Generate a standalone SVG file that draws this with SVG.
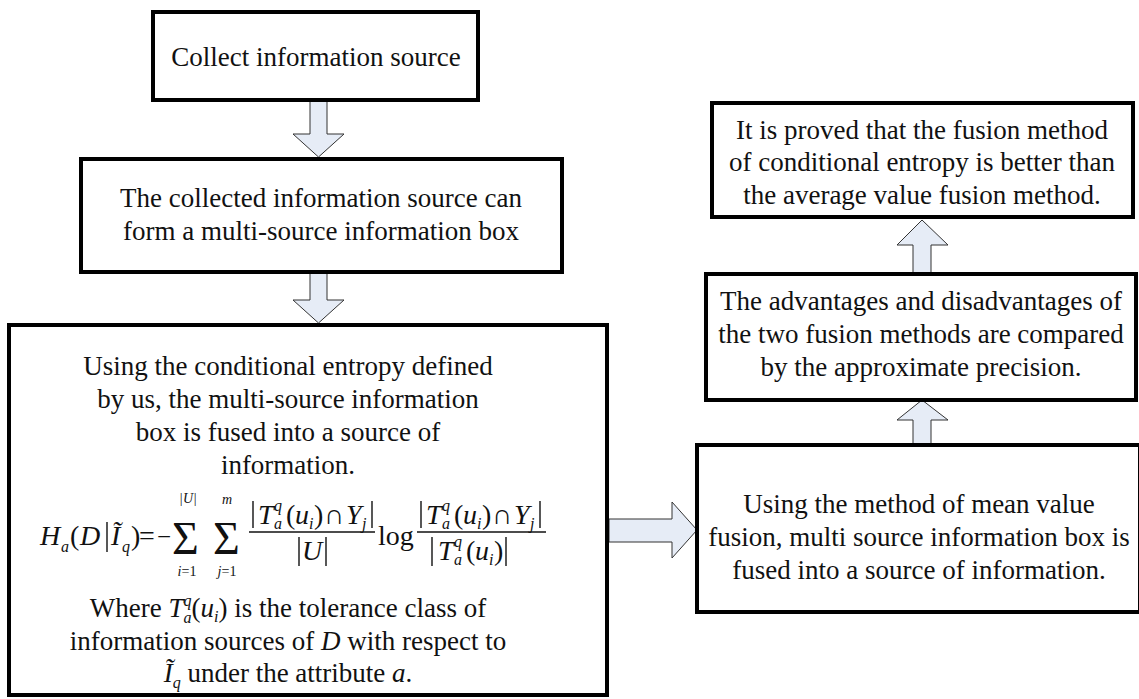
<svg xmlns="http://www.w3.org/2000/svg" width="1139" height="699" viewBox="0 0 1139 699">
<style>
.box{fill:#fff;stroke:#000;stroke-width:4}
.t{font-family:"Liberation Serif","Times New Roman",serif;font-size:27px;fill:#111;text-anchor:middle}
.m{font-family:"Liberation Serif","Times New Roman",serif;fill:#111}
.i{font-style:italic}
.arr{fill:#e6ecf6;stroke:#333;stroke-width:1}
.ln{stroke:#111;stroke-width:1.4;fill:none}
</style>
<rect width="1139" height="699" fill="#fff"/>
<g id="connectors">
<polygon class="arr" points="310,101 327,101 327,134 344,134 318.5,157 293,134 310,134"/>
<polygon class="arr" points="310,273 327,273 327,300 344,300 318.5,323 293,300 310,300"/>
<polygon class="arr" points="609,519 672,519 672,502 697,530 672,558 672,542 609,542"/>
<polygon class="arr" points="913,444 931,444 931,420 948,420 922,400 897,420 913,420"/>
<polygon class="arr" points="913,273 931,273 931,245 948,245 922,220 897,245 913,245"/>
</g>
<g id="n1">
<rect class="box" x="153" y="12" width="325" height="88"/>
<text class="t" x="316" y="66">Collect information source</text>
</g>
<g id="n2">
<rect class="box" x="81" y="159" width="481" height="113"/>
<text class="t" x="321" y="207">The collected information source can</text>
<text class="t" x="321" y="240">form a multi-source information box</text>
</g>
<g id="n3">
<rect class="box" x="9" y="325" width="598" height="370"/>
<text class="t" x="288" y="375">Using the conditional entropy defined</text>
<text class="t" x="288" y="408">by us, the multi-source information</text>
<text class="t" x="288" y="441">box is fused into a source of</text>
<text class="t" x="288" y="474">information.</text>
<g id="formula" class="m">
<text x="40" y="545" font-size="28" class="i">H</text>
<text x="61" y="552" font-size="16" class="i">a</text>
<text x="70" y="545" font-size="28">(</text>
<text x="80" y="545" font-size="28" class="i">D</text>
<line class="ln" x1="107" y1="522" x2="107" y2="552"/>
<text x="111" y="545" font-size="28" class="i">Ĩ</text>
<text x="122" y="552" font-size="16" class="i">q</text>
<text x="131" y="545" font-size="28">)</text>
<text x="139" y="545" font-size="28">=</text>
<text x="157" y="545" font-size="25">−</text>
<text x="172" y="554" font-size="46">Σ</text>
<text x="188" y="503" font-size="14" text-anchor="middle" class="i">|U|</text>
<text x="187" y="576" font-size="14" text-anchor="middle"><tspan class="i">i</tspan>=1</text>
<text x="213" y="554" font-size="46">Σ</text>
<text x="227" y="504" font-size="14" text-anchor="middle" class="i">m</text>
<text x="227" y="576" font-size="14" text-anchor="middle"><tspan class="i">j</tspan>=1</text>
<g id="num1">
<line class="ln" x1="253" y1="501" x2="253" y2="528"/>
<text x="258" y="524" font-size="28" class="i">T</text>
<text x="274" y="511" font-size="16" class="i">q</text>
<text x="274" y="529" font-size="16" class="i">a</text>
<text x="286" y="524" font-size="28">(</text>
<text x="295" y="524" font-size="28" class="i">u</text>
<text x="309" y="529" font-size="16" class="i">i</text>
<text x="314" y="524" font-size="28">)</text>
<text x="324" y="524" font-size="28">∩</text>
<text x="346" y="524" font-size="28" class="i">Y</text>
<text x="362" y="529" font-size="16" class="i">j</text>
<line class="ln" x1="372" y1="501" x2="372" y2="528"/>
</g>
<line class="ln" x1="249" y1="532" x2="375" y2="532"/>
<line class="ln" x1="299" y1="537" x2="299" y2="566"/>
<text x="312" y="560" font-size="28" class="i" text-anchor="middle">U</text>
<line class="ln" x1="326" y1="537" x2="326" y2="566"/>
<text x="378" y="545" font-size="28">log</text>
<use href="#num1" x="168"/>
<line class="ln" x1="417" y1="532" x2="546" y2="532"/>
<line class="ln" x1="432" y1="537" x2="432" y2="566"/>
<text x="438" y="560" font-size="28" class="i">T</text>
<text x="454" y="547" font-size="16" class="i">q</text>
<text x="454" y="565" font-size="16" class="i">a</text>
<text x="466" y="560" font-size="28">(</text>
<text x="475" y="560" font-size="28" class="i">u</text>
<text x="489" y="565" font-size="16" class="i">i</text>
<text x="494" y="560" font-size="28">)</text>
<line class="ln" x1="506" y1="537" x2="506" y2="566"/>
</g>
<text class="m" x="288" y="617" font-size="27" text-anchor="middle">Where <tspan class="i">T</tspan><tspan font-size="16" dy="-11" class="i">q</tspan><tspan font-size="16" dx="-8" dy="17" class="i">a</tspan><tspan dy="-6">(</tspan><tspan class="i">u</tspan><tspan font-size="16" dy="5" class="i">i</tspan><tspan dy="-5">)</tspan> is the tolerance class of</text>
<text class="m" x="288" y="650" font-size="27" text-anchor="middle">information sources of <tspan class="i">D</tspan> with respect to</text>
<text class="m" x="288" y="682" font-size="27" text-anchor="middle"><tspan class="i">Ĩ</tspan><tspan font-size="16" dy="6" class="i">q</tspan><tspan dy="-6"> under the attribute </tspan><tspan class="i">a</tspan>.</text>
</g>
<g id="n4">
<rect class="box" x="697" y="445" width="443" height="167"/>
<text class="t" x="919" y="513">Using the method of mean value</text>
<text class="t" x="919" y="546">fusion, multi source information box is</text>
<text class="t" x="919" y="579">fused into a source of information.</text>
</g>
<g id="n5">
<rect class="box" x="706" y="274" width="430" height="126"/>
<text class="t" x="921" y="310">The advantages and disadvantages of</text>
<text class="t" x="921" y="343">the two fusion methods are compared</text>
<text class="t" x="921" y="376">by the approximate precision.</text>
</g>
<g id="n6">
<rect class="box" x="712" y="103" width="421" height="114"/>
<text class="t" x="922" y="139">It is proved that the fusion method</text>
<text class="t" x="922" y="171">of conditional entropy is better than</text>
<text class="t" x="922" y="204">the average value fusion method.</text>
</g>
</svg>
